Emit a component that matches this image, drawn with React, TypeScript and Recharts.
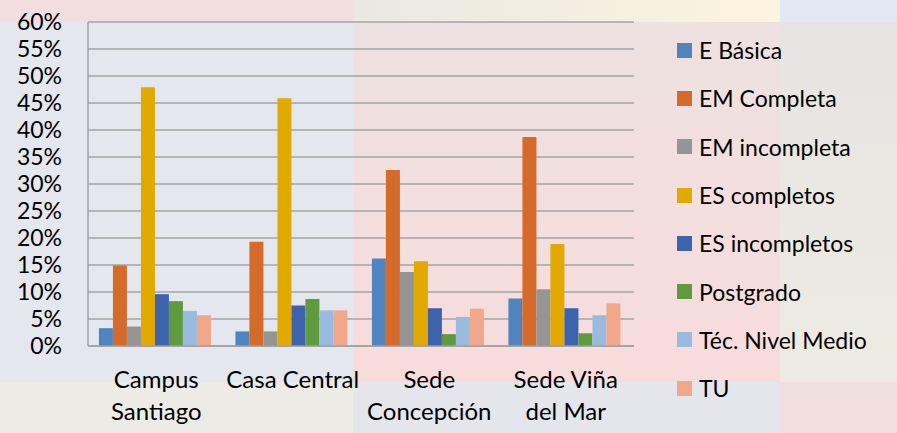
import { BarChart, Bar, XAxis, YAxis, CartesianGrid, Legend } from "recharts";

const categories = ["Campus Santiago", "Casa Central", "Sede Concepción", "Sede Viña del Mar"];
const tickLines = [["Campus", "Santiago"], ["Casa Central"], ["Sede", "Concepción"], ["Sede Viña", "del Mar"]];
const yTicks = [0, 5, 10, 15, 20, 25, 30, 35, 40, 45, 50, 55, 60];

const eBasica = [3.3, 2.7, 16.2, 8.8];
const emCompleta = [14.9, 19.3, 32.6, 38.7];
const emIncompleta = [3.6, 2.7, 13.7, 10.5];
const esCompletos = [47.9, 45.9, 15.7, 18.9];
const esIncompletos = [9.6, 7.5, 7.0, 7.0];
const postgrado = [8.3, 8.7, 2.2, 2.35];
const tecNivelMedio = [6.5, 6.6, 5.4, 5.7];
const tu = [5.7, 6.6, 6.9, 7.9];

const series = [
  { key: "eBasica", name: "E Básica", values: eBasica, color: "#4F84BE" },
  { key: "emCompleta", name: "EM Completa", values: emCompleta, color: "#D46B2A" },
  { key: "emIncompleta", name: "EM incompleta", values: emIncompleta, color: "#959595" },
  { key: "esCompletos", name: "ES completos", values: esCompletos, color: "#E2A900" },
  { key: "esIncompletos", name: "ES incompletos", values: esIncompletos, color: "#3D63AC" },
  { key: "postgrado", name: "Postgrado", values: postgrado, color: "#5F9A3E" },
  { key: "tecNivelMedio", name: "Téc. Nivel Medio", values: tecNivelMedio, color: "#9ABBE0" },
  { key: "tu", name: "TU", values: tu, color: "#F1A88A" },
];

const data = categories.map((c, i) => {
  const row: Record<string, string | number> = { name: c };
  series.forEach((s) => (row[s.key] = s.values[i]));
  return row;
});

const FONT = "Lato, 'Open Sans', sans-serif";

// multi-line category label under each group
function CategoryTick(props: any) {
  const { x, y, payload } = props;
  const lines = tickLines[payload.index] || [payload.value];
  return (
    <text x={x} y={y} textAnchor="middle" fontSize={24} fill="#000" fontFamily={FONT}>
      {lines.map((l: string, i: number) => (
        <tspan key={i} x={x} dy={i === 0 ? 42 : 32}>
          {l}
        </tspan>
      ))}
    </text>
  );
}

function LegendList(props: any) {
  const items = [...(props.payload || [])].sort(
    (a: any, b: any) =>
      series.findIndex((s) => s.name === a.value) - series.findIndex((s) => s.name === b.value)
  );
  return (
    <div style={{ fontFamily: FONT }}>
      {items.map((it: any, i: number) => (
        <div key={i} style={{ height: 48.3, display: "flex", alignItems: "center" }}>
          <span style={{ width: 15, height: 15, background: it.color, display: "inline-block", marginRight: 7 }} />
          <span style={{ fontSize: 23, color: "#000", whiteSpace: "nowrap" }}>{it.value}</span>
        </div>
      ))}
    </div>
  );
}

const tile = (left: number, top: number, width: number, height: number, background: string) => (
  <div style={{ position: "absolute", left, top, width, height, background }} />
);

export default function App() {
  return (
    <div style={{ position: "absolute", left: 0, top: 0, width: 897, height: 433, overflow: "hidden", fontFamily: FONT }}>
      {/* slide background patchwork */}
      {tile(0, 0, 353, 22, "#F3DEDF")}
      {tile(353, 0, 427, 22, "linear-gradient(90deg, #E9E8E3, #FDF4DF)")}
      {tile(780, 0, 117, 22, "#E2E8F4")}
      {tile(0, 22, 353, 360, "#E4E7EE")}
      {tile(353, 22, 427, 360, "linear-gradient(180deg, #EEE1E1, #F8DCDC)")}
      {tile(780, 22, 117, 360, "linear-gradient(180deg, #E6E4E2, #EEEBE2)")}
      {tile(0, 382, 353, 51, "#EDEBE5")}
      {tile(353, 382, 427, 51, "#E4E6EC")}
      {tile(780, 382, 117, 51, "#F1DFDF")}

      <div style={{ position: "absolute", left: 0, top: 0 }}>
        <BarChart
          width={897}
          height={433}
          data={data}
          margin={{ top: 22, right: 263, left: 0, bottom: 27 }}
          barCategoryGap="8%"
          barGap={0}
        >
          <CartesianGrid vertical={false} stroke="#A4A4A4" strokeWidth={1.5} />
          <XAxis
            dataKey="name"
            height={60}
            interval={0}
            tickLine={false}
            tickSize={0}
            tickMargin={0}
            axisLine={{ stroke: "#A0A0A0", strokeWidth: 1.5 }}
            tick={<CategoryTick />}
          />
          <YAxis
            width={88}
            domain={[0, 60]}
            ticks={yTicks}
            interval={0}
            tickLine={false}
            tickSize={0}
            tickMargin={26}
            axisLine={{ stroke: "#A0A0A0", strokeWidth: 1.5 }}
            tickFormatter={(v: number) => `${v}%`}
            tick={{ fontSize: 23, fill: "#000", fontFamily: FONT }}
          />
          <Legend
            layout="vertical"
            align="center"
            verticalAlign="middle"
            itemSorter={null}
            content={<LegendList />}
            wrapperStyle={{ left: 677, top: 26, width: 220, height: 390 }}
          />
          {series.map((s) => (
            <Bar key={s.key} dataKey={s.key} name={s.name} fill={s.color} isAnimationActive={false} />
          ))}
        </BarChart>
      </div>
    </div>
  );
}
